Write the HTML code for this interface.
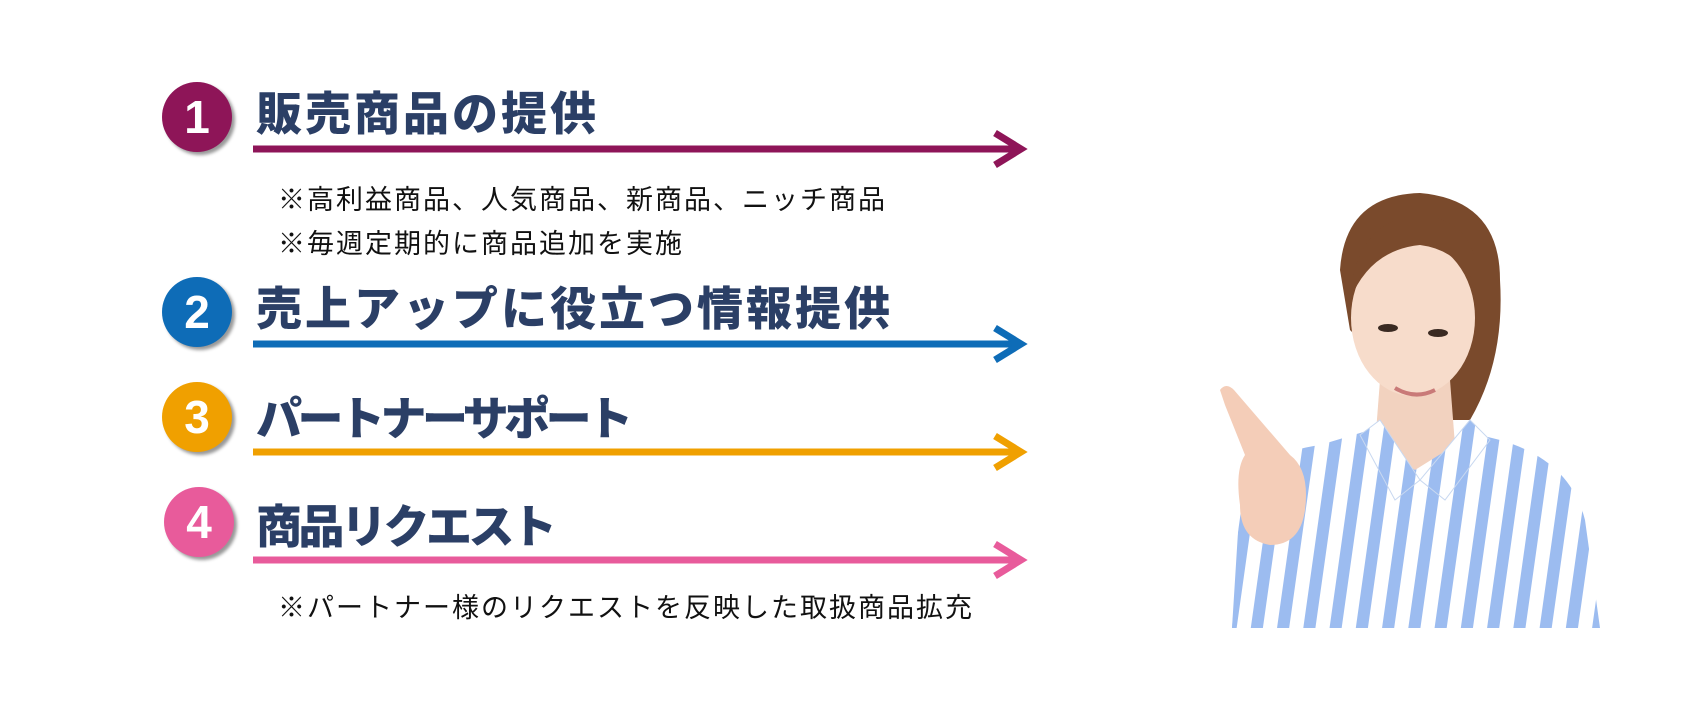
<!DOCTYPE html>
<html><head><meta charset="utf-8"><style>
body{margin:0;width:1700px;height:722px;background:#fff;overflow:hidden;position:relative;font-family:"Liberation Sans","Noto Sans CJK JP",sans-serif}
.c{position:absolute;width:70px;height:70px;border-radius:50%;color:#fff;font-weight:bold;font-size:46px;text-align:center;line-height:70px;box-shadow:3px 3px 3px #999;font-family:"Liberation Sans",sans-serif}
.t{position:absolute;left:256px;font-weight:900;font-size:46px;color:#2b3f66;font-family:"Noto Sans CJK JP",sans-serif;line-height:1;letter-spacing:3px;white-space:nowrap}
.s{position:absolute;left:278px;font-size:27px;color:#111;font-family:"Noto Sans CJK JP",sans-serif;line-height:1;letter-spacing:2px;white-space:nowrap}
</style></head><body>
<div class="c" style="left:162px;top:82px;background:#8e1558">1</div>
<div class="c" style="left:162px;top:277px;background:#0e6cb7">2</div>
<div class="c" style="left:162px;top:382px;background:#f0a000">3</div>
<div class="c" style="left:164px;top:487px;background:#e85b9b">4</div>
<div class="t" style="top:88px">販売商品の提供</div>
<div class="t" style="top:283px">売上アップに役立つ情報提供</div>
<div class="t" style="top:393px;letter-spacing:-4.5px">パートナーサポート</div>
<div class="t" style="top:501px;letter-spacing:-3.5px">商品リクエスト</div>
<div class="s" style="top:184px">※高利益商品、人気商品、新商品、ニッチ商品</div>
<div class="s" style="top:228px">※毎週定期的に商品追加を実施</div>
<div class="s" style="top:592px">※パートナー様のリクエストを反映した取扱商品拡充</div>
<svg width="1700" height="722" style="position:absolute;left:0;top:0">
<g fill="none" stroke-width="7">
<g stroke="#8e1558"><line x1="253" y1="149" x2="1020" y2="149"/><polyline points="995,133 1021,149 995,165"/></g>
<g stroke="#0e6cb7"><line x1="253" y1="344" x2="1020" y2="344"/><polyline points="995,328 1021,344 995,360"/></g>
<g stroke="#f0a000"><line x1="253" y1="452" x2="1020" y2="452"/><polyline points="995,436 1021,452 995,468"/></g>
<g stroke="#e85b9b"><line x1="253" y1="560" x2="1020" y2="560"/><polyline points="995,544 1021,560 995,576"/></g>
</g>
<defs><pattern id="st" width="26" height="26" patternUnits="userSpaceOnUse" patternTransform="rotate(8)"><rect width="26" height="26" fill="#fff"/><rect width="12" height="26" fill="#9cbcf0"/></pattern></defs>
<path d="M1340,270 Q1345,195 1420,193 Q1500,200 1500,280 Q1505,360 1470,420 L1440,420 L1350,330 Z" fill="#7a4a2c"/>
<path d="M1232,628 L1240,500 Q1250,455 1320,445 L1370,430 L1440,425 L1500,440 Q1570,460 1585,520 L1600,628 Z" fill="url(#st)"/>
<path d="M1380,380 L1450,380 L1455,445 L1415,470 L1375,445 Z" fill="#f2d2bf"/>
<path d="M1360,435 L1380,420 L1420,480 L1395,500 Z M1470,420 L1490,440 L1445,500 L1420,480 Z" fill="url(#st)" stroke="#c8d8f0" stroke-width="1"/>
<ellipse cx="1413" cy="318" rx="62" ry="78" fill="#f7dccb"/>
<path d="M1350,300 Q1355,220 1420,215 Q1480,220 1478,290 Q1460,250 1420,245 Q1370,250 1350,300 Z" fill="#7a4a2c"/>
<ellipse cx="1388" cy="328" rx="10" ry="4" fill="#3a2a22"/><ellipse cx="1438" cy="333" rx="10" ry="4" fill="#3a2a22"/>
<path d="M1395,388 Q1415,400 1435,390" stroke="#c97a78" stroke-width="4" fill="none"/>
<path d="M1220,390 Q1226,382 1234,390 L1290,455 Q1310,470 1305,510 Q1300,545 1270,545 Q1240,540 1240,505 Q1235,470 1245,455 L1225,405 Z" fill="#f4cdb8"/>
<path d="M1245,545 L1255,628 L1232,628 L1238,560 Z" fill="url(#st)"/>
</svg>
</body></html>
